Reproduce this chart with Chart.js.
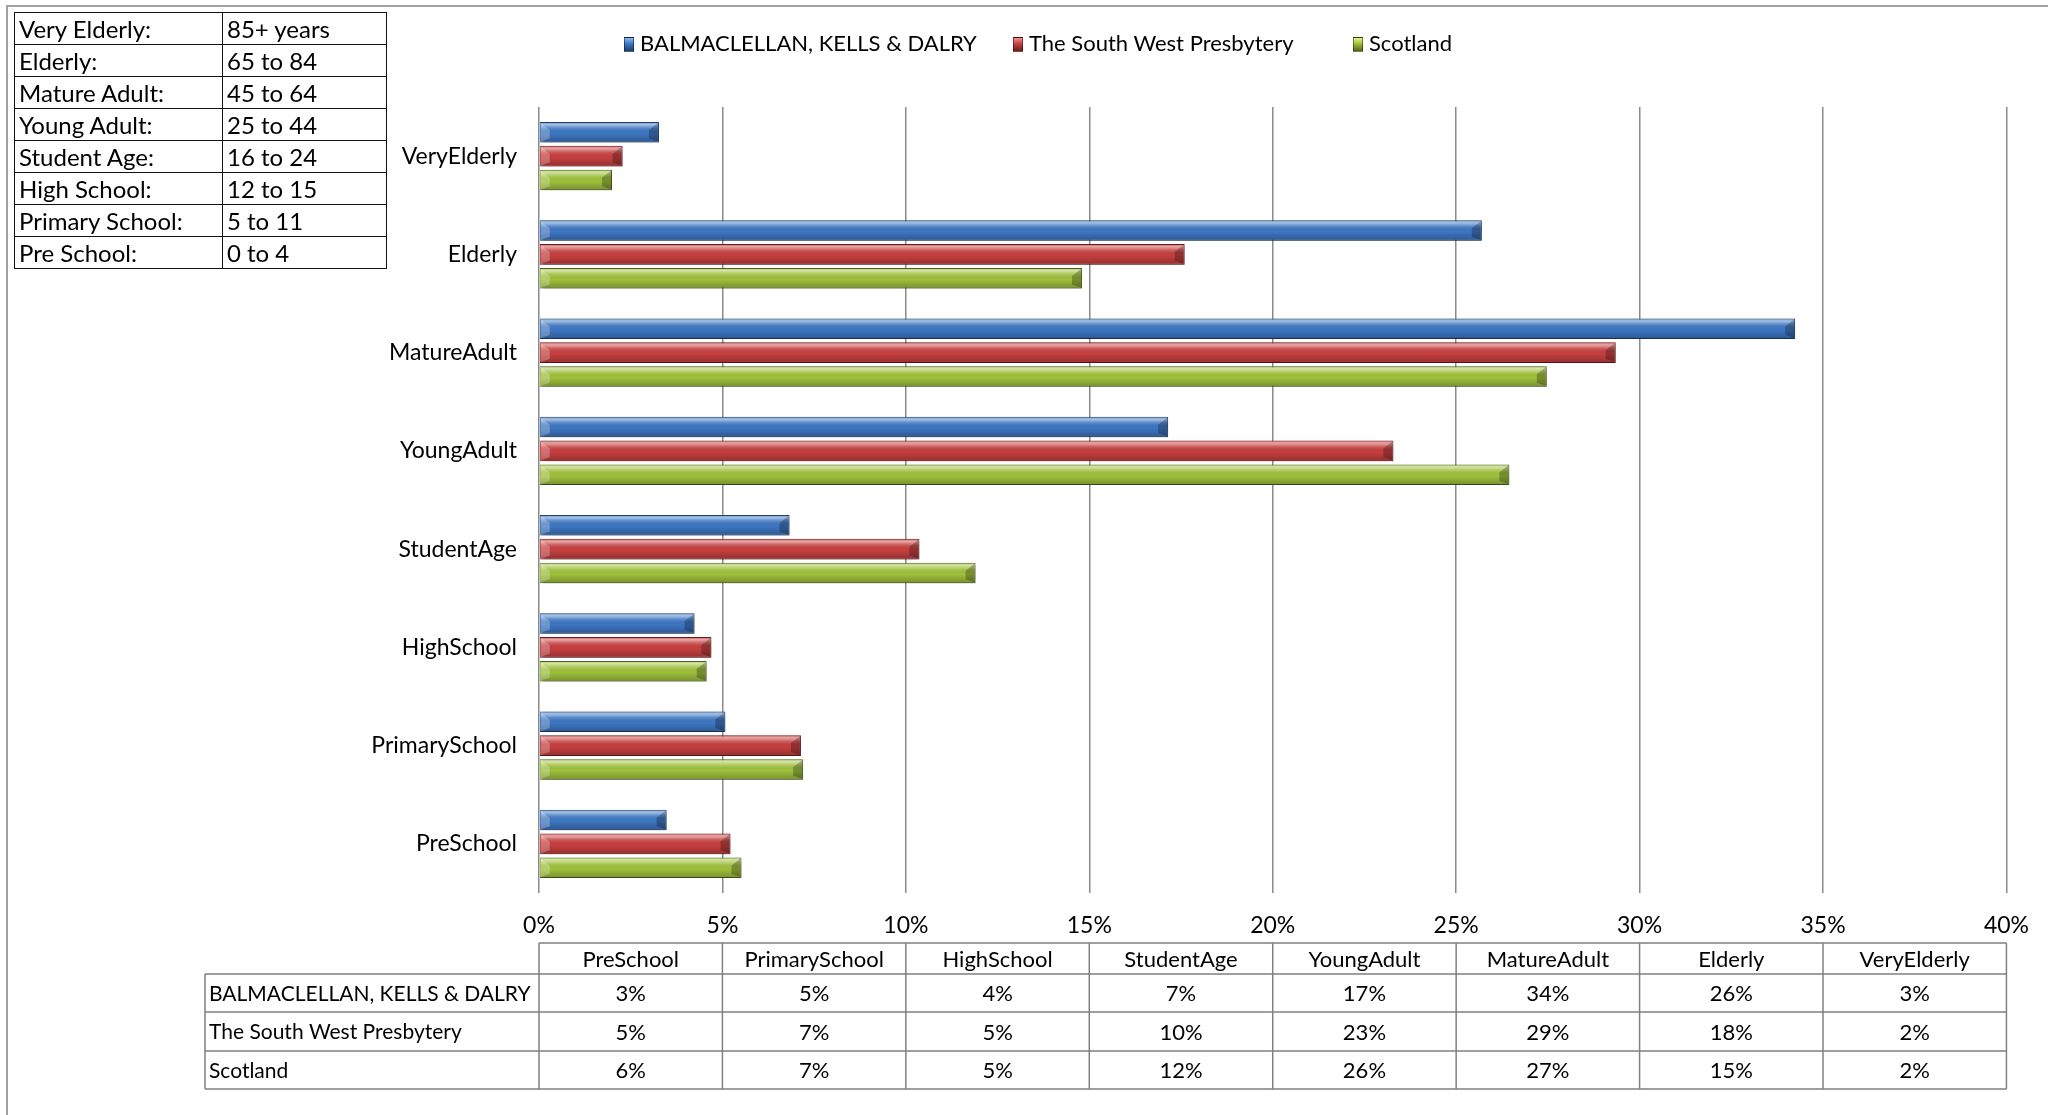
<!DOCTYPE html>
<html>
<head>
<meta charset="utf-8">
<script src="https://cdn.jsdelivr.net/npm/chart.js@4/dist/chart.umd.min.js"></script>
<style>
    body { margin: 0; background: #fff; font-family: Lato, sans-serif; color: #000; }
    #wrap { position: relative; width: 2048px; height: 1115px; overflow: hidden; }
    #frame { position: absolute; left: 6px; top: 5px; width: 2100px; height: 1200px;
             border-left: 2px solid #a0a0a0; border-top: 2px solid #a0a0a0; }
    #chart { position: absolute; left: 0; top: 0; }
    #ages { position: absolute; left: 14px; top: 12px; border-collapse: collapse;
            table-layout: fixed; font-size: 24px; }
    #ages td { border: 1.5px solid #111; height: 31px; padding: 0 0 0 4px;
               white-space: nowrap; line-height: 24px; }
    .leg { position: absolute; top: 30px; font-size: 22px; white-space: nowrap; line-height: 26px; }
    .leg i { display: inline-block; width: 10px; height: 15px; margin-right: 6px;
             vertical-align: -1px; border: 1px solid rgba(0,0,0,0.45); box-sizing: border-box; }
</style>
</head>
<body>
<div id="wrap">
    <div id="frame"></div>
    <canvas id="chart" width="2048" height="1115"></canvas>
    <table id="ages">
        <colgroup><col style="width:208px"><col style="width:164px"></colgroup>
        <tbody id="ages-body"></tbody>
    </table>
    <div id="legend"></div>
</div>
<script>
// age band key (top left)
const bandNames = ['Very Elderly:', 'Elderly:', 'Mature Adult:', 'Young Adult:', 'Student Age:', 'High School:', 'Primary School:', 'Pre School:'];
const bandAges = ['85+ years', '65 to 84', '45 to 64', '25 to 44', '16 to 24', '12 to 15', '5 to 11', '0 to 4'];

// chart data (percent of population)
const categories = ['PreSchool', 'PrimarySchool', 'HighSchool', 'StudentAge', 'YoungAdult', 'MatureAdult', 'Elderly', 'VeryElderly'];
const seriesNames = ['BALMACLELLAN, KELLS & DALRY', 'The South West Presbytery', 'Scotland'];
const balmaclellan = [3.48, 5.08, 4.24, 6.83, 17.15, 34.24, 25.7, 3.27];
const southWest = [5.22, 7.14, 4.70, 10.37, 23.29, 29.35, 17.6, 2.28];
const scotland = [5.52, 7.2, 4.57, 11.9, 26.45, 27.47, 14.8, 1.99];
const xMax = 40;
const xStep = 5;

const seriesColors = ['#3d76c2', '#c63f3f', '#9fc03c'];
const seriesEdges = ['#1f3f6e', '#6e1e1e', '#4f6420'];
const seriesLight = ['#86bdf5', '#f98a8a', '#e4f57e'];

document.getElementById('ages-body').innerHTML = bandNames.map((n, i) =>
    `<tr><td>${n}</td><td>${bandAges[i]}</td></tr>`).join('');

const legendX = [624, 1013, 1353];
document.getElementById('legend').innerHTML = seriesNames.map((n, i) => `
    <div class="leg" style="left:${legendX[i]}px">
        <i style="background:linear-gradient(${seriesLight[i]}, ${seriesColors[i]} 45%, ${seriesEdges[i]})"></i>${n}
    </div>`).join('');

const FONT = 'Lato, sans-serif';

// shadow + bevel look for the bars
const bevelPlugin = {
    id: 'bevel',
    beforeDatasetsDraw(chart) {
        const ctx = chart.ctx;
        ctx.save();
        ctx.shadowColor = 'rgba(0,0,0,0.35)';
        ctx.shadowBlur = 5;
        ctx.shadowOffsetX = 2;
        ctx.shadowOffsetY = 3;
    },
    afterDatasetsDraw(chart) {
        const ctx = chart.ctx;
        ctx.restore();
        chart.data.datasets.forEach((ds, di) => {
            chart.getDatasetMeta(di).data.forEach(bar => {
                const p = bar.getProps(['x', 'y', 'base', 'height'], true);
                const top = p.y - p.height / 2;
                const bottom = p.y + p.height / 2;
                const left = p.base + 1;
                const right = p.x - 1;
                const g = ctx.createLinearGradient(0, top, 0, bottom);
                g.addColorStop(0, 'rgba(255,255,255,0.15)');
                g.addColorStop(0.12, 'rgba(255,255,255,0.55)');
                g.addColorStop(0.3, 'rgba(255,255,255,0.15)');
                g.addColorStop(0.55, 'rgba(0,0,0,0)');
                g.addColorStop(1, 'rgba(0,0,0,0.25)');
                ctx.save();
                ctx.fillStyle = g;
                ctx.fillRect(left, top + 1, right - left, p.height - 2);
                const b = Math.min(9, (right - left) / 2);
                ctx.fillStyle = 'rgba(0,0,0,0.25)';
                ctx.beginPath();
                ctx.moveTo(right, top + 1);
                ctx.lineTo(right, bottom - 1);
                ctx.lineTo(right - b, bottom - 4);
                ctx.lineTo(right - b, top + 8);
                ctx.closePath();
                ctx.fill();
                ctx.fillStyle = 'rgba(255,255,255,0.25)';
                ctx.beginPath();
                ctx.moveTo(left, top + 1);
                ctx.lineTo(left + b, top + 8);
                ctx.lineTo(left + b, bottom - 4);
                ctx.lineTo(left, bottom - 1);
                ctx.closePath();
                ctx.fill();
                ctx.restore();
            });
        });
    }
};

// data table under the value axis
const dataTablePlugin = {
    id: 'dataTable',
    afterDraw(chart) {
        const ctx = chart.ctx;
        const xs = chart.scales.x;
        const colW = (xs.right - xs.left) / categories.length;
        const labelLeft = 205;
        const rowsY = [943, 974, 1012, 1051, 1089];
        const values = [balmaclellan, southWest, scotland];

        ctx.save();
        ctx.strokeStyle = '#808080';
        ctx.lineWidth = 1.5;
        ctx.beginPath();
        // header row (categories only)
        ctx.moveTo(xs.left, rowsY[0]);
        ctx.lineTo(xs.right, rowsY[0]);
        for (let r = 1; r < rowsY.length; r++) {
            ctx.moveTo(labelLeft, rowsY[r]);
            ctx.lineTo(xs.right, rowsY[r]);
        }
        for (let c = 0; c <= categories.length; c++) {
            const x = xs.left + c * colW;
            ctx.moveTo(x, rowsY[0]);
            ctx.lineTo(x, rowsY[4]);
        }
        ctx.moveTo(labelLeft, rowsY[1]);
        ctx.lineTo(labelLeft, rowsY[4]);
        ctx.stroke();

        ctx.fillStyle = '#000';
        ctx.font = `22px ${FONT}`;
        ctx.textBaseline = 'middle';
        ctx.textAlign = 'center';
        categories.forEach((c, i) => {
            ctx.fillText(c, xs.left + (i + 0.5) * colW, (rowsY[0] + rowsY[1]) / 2 + 1);
        });
        values.forEach((vals, r) => {
            const cy = (rowsY[r + 1] + rowsY[r + 2]) / 2 + 1;
            ctx.textAlign = 'left';
            ctx.font = `21px ${FONT}`;
            ctx.fillText(seriesNames[r], labelLeft + 4, cy);
            ctx.textAlign = 'center';
            ctx.font = `22px ${FONT}`;
            vals.forEach((v, i) => {
                ctx.fillText(Math.round(v) + '%', xs.left + (i + 0.5) * colW, cy);
            });
        });
        ctx.restore();
    }
};

new Chart(document.getElementById('chart'), {
    type: 'bar',
    data: {
        labels: categories,
        datasets: [balmaclellan, southWest, scotland].map((d, i) => ({
            label: seriesNames[i],
            data: d,
            backgroundColor: seriesColors[i],
            borderColor: seriesEdges[i],
            borderWidth: 1,
            categoryPercentage: 0.73,
            barPercentage: 0.86
        }))
    },
    options: {
        indexAxis: 'y',
        responsive: false,
        animation: false,
        layout: { padding: { top: 107, right: 37, left: 0, bottom: 0 } },
        plugins: {
            legend: { display: false },
            tooltip: { enabled: false }
        },
        scales: {
            x: {
                min: 0,
                max: xMax,
                ticks: {
                    stepSize: xStep,
                    padding: 19,
                    color: '#000',
                    font: { family: FONT, size: 23 },
                    callback: v => v + '%'
                },
                grid: { color: '#8a8a8a', lineWidth: 1.5, drawTicks: false },
                border: { display: false },
                afterFit: s => { s.height = 222; }
            },
            y: {
                reverse: true,
                ticks: {
                    padding: 22,
                    color: '#000',
                    font: { family: FONT, size: 23 }
                },
                grid: { display: false, drawTicks: false },
                border: { display: false },
                afterFit: s => { s.width = 539; }
            }
        }
    },
    plugins: [bevelPlugin, dataTablePlugin]
});
</script>
</body>
</html>
